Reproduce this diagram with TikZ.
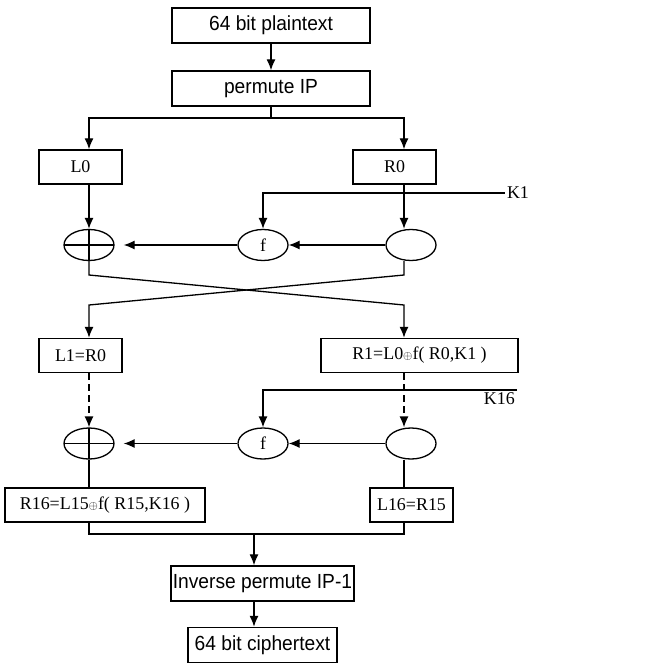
\documentclass[tikz,border=0pt]{standalone}
\usepackage{fontspec}
\setmainfont{Liberation Serif}
\newfontfamily\boxsans[FakeStretch=0.94]{Liberation Sans}
\usetikzlibrary{arrows.meta,positioning,shapes.geometric,calc}

\begin{document}
\begin{tikzpicture}[
  x=1bp, y=-1bp, >={Latex[length=11bp,width=9bp]},
  line width=1.3bp,
  big/.style={draw, line width=1.4bp, minimum height=35bp, inner sep=0pt, font=\boxsans\fontsize{20.5}{23}\selectfont},
  reg/.style={draw, line width=1.4bp, minimum height=34bp, inner sep=0pt, font=\fontsize{18}{21}\selectfont},
  oval/.style={draw, ellipse, minimum width=50bp, minimum height=31bp, inner sep=0pt, font=\fontsize{18}{21}\selectfont},
  xorop/.style={oval, path picture={\draw (path picture bounding box.north) -- (path picture bounding box.south) (path picture bounding box.west) -- (path picture bounding box.east);}},
  lbl/.style={inner sep=1.5bp, font=\fontsize{18}{21}\selectfont},
  skip/.style={dash pattern=on 7bp off 4bp},
]
\useasboundingbox (0,0) rectangle (653,664);
% columns
\coordinate (lc) at (89,0);
\coordinate (rc) at (404,0);
\coordinate (bc) at (254,0);
% input and initial permutation
\node[big, minimum width=198bp] (plain) at (271,25.5) {64 bit plaintext};
\node[big, minimum width=198bp] (ip) at (271,88.5) {permute IP};
\draw[->] (plain) -- (ip);
\coordinate (split) at (271,118);
\draw (ip) -- (split);
% first round
\node[reg, minimum width=83bp] (L0) at (80.5,167) {L0};
\node[reg, minimum width=83bp] (R0) at (394.5,167) {R0};
\draw[->] (split) -| (L0.north -| lc);
\draw[->] (split) -| (R0.north -| rc);
\node[xorop] (xorA) at (89,245) {};
\node[oval] (fA) at (263,245) {f};
\node[oval] (rA) at (411,245) {};
\node[lbl] (K1) at (518,193) {K1};
\draw[->] (K1.west) -| (fA);
\draw[->] (L0.south -| lc) -- (xorA);
\draw[->] (R0.south -| rc) -- (rA.north -| rc);
\draw[->] (rA) -- (fA);
\draw[->, shorten >=9bp] (fA) -- (xorA);
% swap halves
\coordinate (xa) at (89,275);
\coordinate (xb) at (404,275);
\coordinate (ya) at (89,305);
\coordinate (yb) at (404,305);
\node[reg, minimum width=83bp] (L1) at (80.5,355.5) {L1=R0};
\node[reg, minimum width=197bp] (R1) at (419.5,355.5) {R1=L0{\fontsize{13}{14}\selectfont$\oplus$}f( R0,K1 )};
\draw[->] (xorA) -- (xa) -- (yb) -- (R1.north -| yb);
\draw[->] (rA.south -| xb) -- (xb) -- (ya) -- (L1.north -| ya);
% last round
\node[xorop] (xorB) at (89,443.5) {};
\node[oval] (fB) at (263,443.5) {f};
\node[oval] (rB) at (411,443.5) {};
\coordinate (K16in) at (517,390);
\node[lbl, anchor=north east] (K16) at (K16in) {K16};
\draw[->] (K16in) -| (fB);
\draw[->, skip] (L1.south -| lc) -- (xorB);
\draw[->, skip] (R1.south -| rc) -- (rB.north -| rc);
\draw[->] (rB) -- (fB);
\draw[->, shorten >=9bp] (fB) -- (xorB);
\node[reg, minimum width=200bp] (R16) at (105,505) {R16=L15{\fontsize{13}{14}\selectfont$\oplus$}f( R15,K16 )};
\node[reg, minimum width=83bp] (L16) at (411.5,505) {L16=R15};
\draw (xorB) -- (R16.north -| lc);
\draw (rB.south -| rc) -- (L16.north -| rc);
% output
\coordinate (jl) at (89,534);
\coordinate (jr) at (404,534);
\draw (R16.south -| jl) -- (jl) -- (jr) -- (L16.south -| jr);
\node[big, minimum width=183bp] (inv) at (262.5,583.5) {Inverse permute IP-1};
\node[big, minimum width=149bp] (ciph) at (262.5,645) {64 bit ciphertext};
\draw[->] (jl -| bc) -- (inv.north -| bc);
\draw[->] (inv.south -| bc) -- (ciph.north -| bc);
\end{tikzpicture}
\end{document}
